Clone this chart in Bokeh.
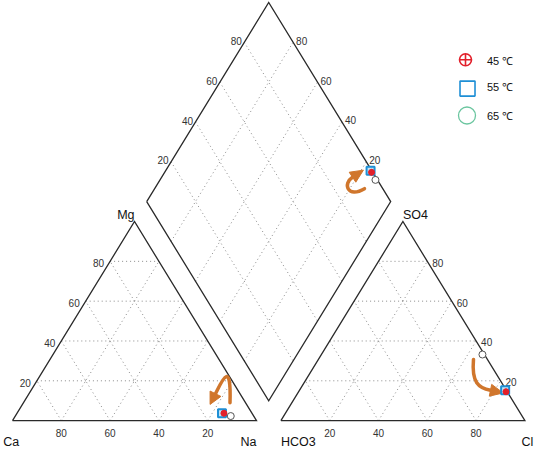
from bokeh.plotting import figure
from bokeh.models import Range1d
from bokeh.embed import file_html
from bokeh.resources import INLINE
from bokeh.core.properties import value

# ---- data (percent of meq) ----
temps = ["45 ℃", "55 ℃", "65 ℃"]
ca = [11.5, 12.3, 9.4]
mg = [3.7, 3.7, 2.3]
na = [84.8, 84.0, 88.3]
hco3 = [0.5, 0.5, 0.8]
so4 = [14.5, 15.2, 33.2]
cl = [85.0, 84.3, 66.0]
ticks = [20, 40, 60, 80]

G = 0.1  # gap between triangles (side = 1, height = 1 unit in y)
FONT = value("Liberation Sans")
PXX, PXY = 244.0, 200.0  # approx px per unit


def frac(a, b, c):
    t = a + b + c
    return a / t, b / t, c / t


cat_x, cat_y, an_x, an_y, di_x, di_y = [], [], [], [], [], []
for i in range(len(temps)):
    fca, fmg, fna = frac(ca[i], mg[i], na[i])
    fh, fs, fc = frac(hco3[i], so4[i], cl[i])
    cat_x.append(fna + fmg / 2); cat_y.append(fmg)
    an_x.append(1 + G + fc + fs / 2); an_y.append(fs)
    u, w = fna, fs + fc
    di_x.append((u + 1 + G + w) / 2); di_y.append(1 + G + w - u)

p = figure(width=534, height=449, output_backend="svg", toolbar_location=None,
           x_range=Range1d(-12 / PXX, -12 / PXX + 534 / PXX),
           y_range=Range1d(-0.145, 2.11),
           x_axis_type=None, y_axis_type=None, min_border=0)
p.grid.visible = False
p.outline_line_color = None
p.background_fill_color = "white"
p.border_fill_color = "white"

# ---- grid ----
gx, gy = [], []
for t in ticks:
    k = t / 100
    for off in (0, 1 + G):
        gx.append([off + k / 2, off + 1 - k / 2]); gy.append([k, k])
        gx.append([off + k, off + k + (1 - k) / 2]); gy.append([0, 1 - k])
        gx.append([off + 1 - k, off + (1 - k) / 2]); gy.append([0, 1 - k])
    gx.append([(k + 1 + G) / 2, (k + 2 + G) / 2]); gy.append([1 + G - k, 2 + G - k])
    gx.append([(1 + G + k) / 2, (2 + G + k) / 2]); gy.append([1 + G + k, G + k])
p.multi_line(gx, gy, line_color="#8a8a8a", line_width=1, line_dash="1 3")

# ---- outlines ----
ox = [[0, 1, 0.5, 0], [1 + G, 2 + G, 1.5 + G, 1 + G],
      [(1 + G) / 2, (2 + G) / 2, (3 + G) / 2, (2 + G) / 2, (1 + G) / 2]]
oy = [[0, 0, 1, 0], [0, 0, 1, 0], [1 + G, G, 1 + G, 2 + G, 1 + G]]
p.multi_line(ox, oy, line_color="#2a2a2a", line_width=1.3, line_join="miter")

# ---- tick labels ----
tk = [str(t) for t in ticks]
kf = [t / 100 for t in ticks]
tstyle = dict(text_font=FONT, text_font_size="10px", text_color="#333333",
              text_baseline="middle")
p.text([k / 2 - 6 / PXX for k in kf], [k - 2 / PXY for k in kf], text=tk,
       text_align="right", **tstyle)
p.text([1 - k for k in kf], [-12 / PXY] * 4, text=tk, text_align="center", **tstyle)
p.text([2 + G - k / 2 + 5 / PXX for k in kf], [k - 1.5 / PXY for k in kf], text=tk,
       text_align="left", **tstyle)
p.text([1 + G + k for k in kf], [-12 / PXY] * 4, text=tk, text_align="center", **tstyle)
p.text([(1 + G + k) / 2 - 2.5 / PXX for k in kf], [1 + G + k + 1.3 / PXY for k in kf],
       text=tk, text_align="right", **tstyle)
p.text([(1 - k + 2 + G) / 2 + 3 / PXX for k in kf], [1 + G + k + 1.5 / PXY for k in kf],
       text=tk, text_align="left", **tstyle)

# ---- vertex labels ----
vstyle = dict(text_font=FONT, text_font_size="12.5px", text_color="#111111")
p.text([-0.038], [-0.141], text=["Ca"], text_align="left", text_baseline="bottom", **vstyle)
p.text([1.0], [-0.141], text=["Na"], text_align="right", text_baseline="bottom", **vstyle)
p.text([1 + G], [-0.141], text=["HCO3"], text_align="left", text_baseline="bottom", **vstyle)
p.text([2.134], [-0.141], text=["Cl"], text_align="right", text_baseline="bottom", **vstyle)
p.text([0.5], [1.035], text=["Mg"], text_align="right", text_baseline="middle", **vstyle)
p.text([1.5 + G], [1.035], text=["SO4"], text_align="left", text_baseline="middle", **vstyle)

# ---- arrows (annotations) ----
ORANGE = "#d0762c"
arr_x0 = [0.8914, 1.4426, 1.8893]
arr_y0 = [0.09, 1.165, 0.3075]
arr_cx0 = [0.8975, 1.373, 1.8811]
arr_cy0 = [0.315, 1.115, 0.19]
arr_cx1 = [0.8566, 1.3525, 1.9098]
arr_cy1 = [0.195, 1.19, 0.165]
arr_x1 = [0.8320, 1.3934, 1.959]
arr_y1 = [0.135, 1.2225, 0.1525]
head_x = [[0.8098, 0.8541, 0.8098], [1.4381, 1.407, 1.380], [2.0111, 1.9541, 1.9639]]
head_y = [[0.0815, 0.1215, 0.1485], [1.258, 1.1975, 1.2475], [0.139, 0.123, 0.182]]
p.bezier(x0=arr_x0, y0=arr_y0, x1=arr_x1, y1=arr_y1, cx0=arr_cx0, cy0=arr_cy0,
         cx1=arr_cx1, cy1=arr_cy1, line_color=ORANGE, line_width=3.5, line_cap="round")
p.patches(head_x, head_y, fill_color=ORANGE, line_color=ORANGE, line_width=1)

# ---- sample points ----
RED, BLUE, GREEN = "#e2202b", "#1e8fd5", "#6cc6a0"
for xs, ys in ((cat_x, cat_y), (an_x, an_y), (di_x, di_y)):
    p.scatter([xs[1]], [ys[1]], marker="square", size=8, fill_color="#bfe3f7",
              line_color=BLUE, line_width=2)
    p.scatter([xs[0]], [ys[0]], marker="circle_cross", size=6, fill_color=RED,
              line_color=RED, line_width=1)
    p.scatter([xs[2]], [ys[2]], marker="circle", size=7, fill_color="white",
              line_color="#555555", line_width=1)

# ---- legend ----
lx = [1.8566, 1.8648, 1.8627]
ly = [1.8125, 1.6675, 1.5325]
p.scatter([lx[0]], [ly[0]], marker="circle_cross", size=12, fill_color=None,
          line_color=RED, line_width=1.6)
p.scatter([lx[1]], [ly[1]], marker="square", size=15, fill_color=None,
          line_color=BLUE, line_width=1.6)
p.scatter([lx[2]], [ly[2]], marker="circle", size=17, fill_color=None,
          line_color=GREEN, line_width=1.3)
p.text([1.9447] * 3, [1.8065, 1.6735, 1.5315], text=temps, text_font=FONT,
       text_font_size="11px", text_color="#111111", text_baseline="middle",
       text_align="left")

open("out.html", "w").write(file_html(p, INLINE))
